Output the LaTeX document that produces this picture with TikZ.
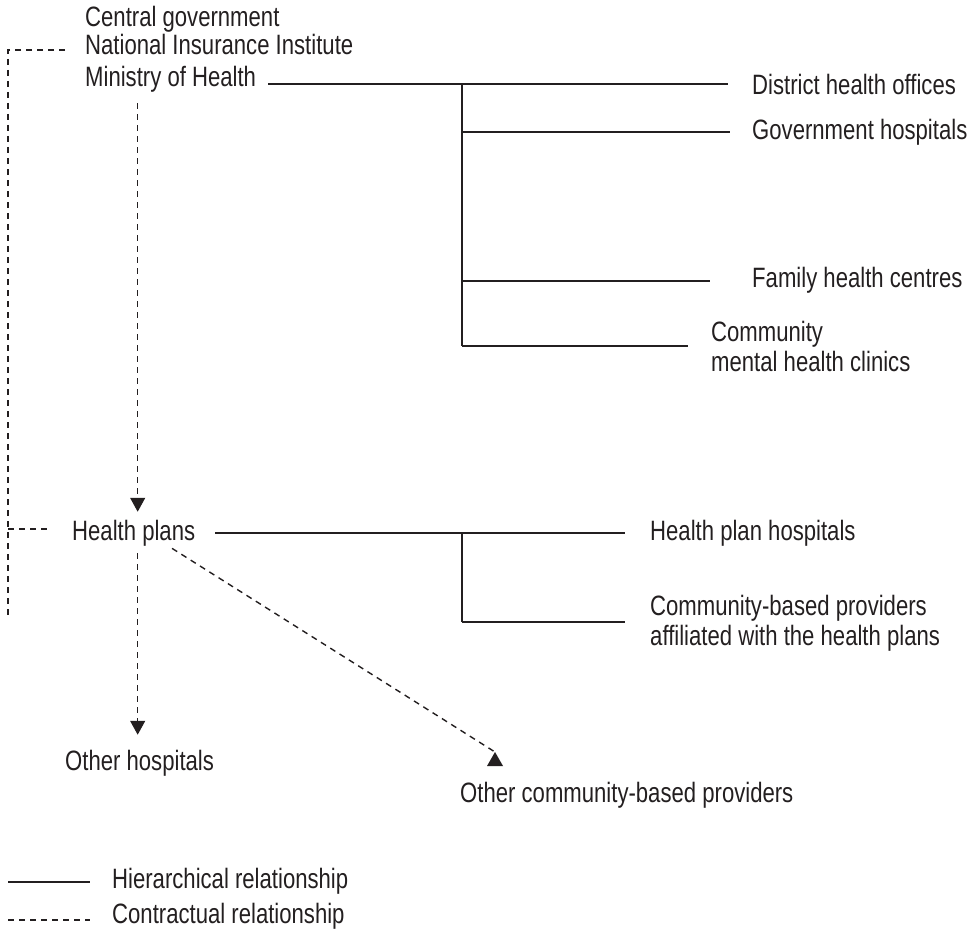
\documentclass[tikz,border=0pt]{standalone}
\usepackage{fontspec}
\setmainfont{Liberation Sans}[FakeStretch=0.79]
\usepackage{xcolor}
\usepackage{tikz}
\usetikzlibrary{arrows.meta,positioning}

\definecolor{ink}{RGB}{35,31,32}

\begin{document}
\begin{tikzpicture}[x=1pt, y=-1pt, color=ink,
    lbl/.style={anchor=west, inner sep=0pt, align=left, font=\fontsize{28}{30}\selectfont},
    hier/.style={line width=1.4pt},
    contr/.style={line width=1.4pt, dash pattern=on 6pt off 5pt},
    tip/.style={-{Triangle[width=15pt,length=14pt]}}]
    \useasboundingbox (0,0) rectangle (974,931);

    % top of the system
    \node[lbl, anchor=base west] (cg) at (85,27) {Central government};
    \node[lbl, anchor=base west] (nii) at (85,55) {National Insurance Institute};
    \node[lbl, anchor=base west] (moh) at (85,87) {Ministry of Health};

    \node[lbl] (dho) at (752,84) {District health offices};
    \node[lbl] (gh) at (752,132) {Government hospitals};
    \node[lbl] (fhc) at (752,280) {Family health centres};
    \node[lbl] (cmh) at (711,346) {Community\\mental health clinics};

    % health plans
    \node[lbl] (hp) at (72,533) {Health plans};
    \node[lbl] (hph) at (650,533) {Health plan hospitals};
    \node[lbl] (cbp) at (650,623) {Community-based providers\\affiliated with the health plans};

    \node[lbl] (oh) at (65,763) {Other hospitals};
    \node[lbl] (ocp) at (460,795) {Other community-based providers};

    % legend
    \node[lbl] (hr) at (112,881) {Hierarchical relationship};
    \node[lbl] (cr) at (112,916) {Contractual relationship};

    \coordinate (j1) at (462,84);
    \coordinate (j2) at (462,132);
    \coordinate (j3) at (462,281);
    \coordinate (j4) at (462,346);
    \coordinate (k1) at (462,533);
    \coordinate (k2) at (462,622);
    \coordinate (lb) at (8,615);
    \coordinate (dt) at (495,752);
    \coordinate (hs) at (8,882);
    \coordinate (cs) at (8,920);

    % hierarchical lines
    \draw[hier, shorten <=12pt, shorten >=24pt] (moh.east |- dho.west) -- (dho.west);
    \draw[hier] (j1) -- (j4);
    \draw[hier, shorten >=22pt] (j2) -- (gh.west);
    \draw[hier, shorten >=42pt] (j3) -- (j3 -| fhc.west);
    \draw[hier, shorten >=23pt] (j4) -- (j4 -| cmh.west);

    \draw[hier, shorten <=20pt, shorten >=25pt] (hp.east) -- (hph.west);
    \draw[hier] (k1) -- (k2);
    \draw[hier, shorten >=25pt] (k2) -- (k2 -| cbp.west);

    % contractual lines
    \draw[contr] ([shift={(-20pt,5pt)}]nii.base west) -| (lb);
    \draw[contr] ([yshift=4pt]hp.west -| lb) -- ([shift={(-24pt,4pt)}]hp.west);
    \draw[contr, tip, shorten <=10pt, shorten >=8pt] ([xshift=4pt]hp.north |- moh.south) -- ([xshift=4pt]hp.north);
    \draw[contr, tip, shorten <=7pt, shorten >=15pt] ([xshift=4pt]hp.south) -- ([xshift=4pt]hp.south |- oh.north);
    \draw[contr, shorten <=4pt] ([xshift=35pt]hp.south) -- (dt);
    \fill (dt) -- ++(8,14) -- ++(-16,0) -- cycle;

    % legend lines
    \draw[hier] (hs) -- ([xshift=-22pt]hr.west |- hs);
    \draw[contr] (cs) -- ([xshift=-22pt]cr.west |- cs);
\end{tikzpicture}
\end{document}
